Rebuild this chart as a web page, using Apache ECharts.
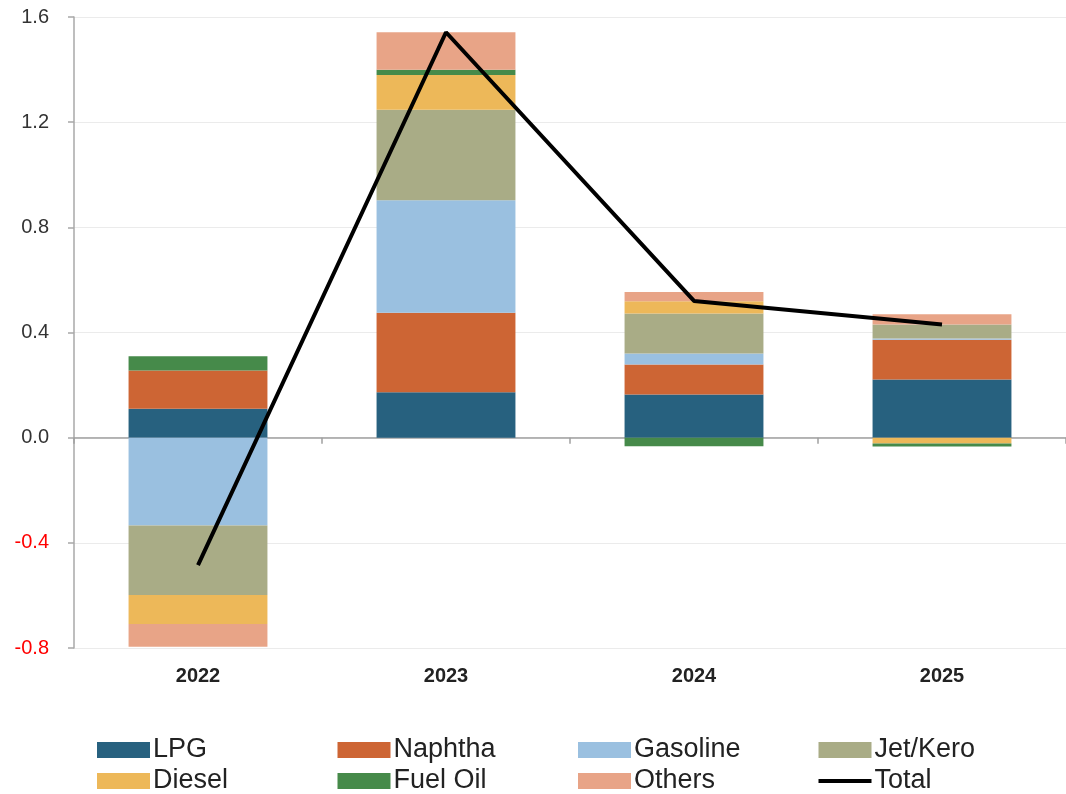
<!DOCTYPE html>
<html>
<head>
<meta charset="utf-8">
<title>Demand change by product</title>
<script src="https://cdn.jsdelivr.net/npm/echarts@6/dist/echarts.min.js"></script>
<style>
  html, body { margin: 0; padding: 0; background: #fff; }
  #main { width: 1066px; height: 794px; }
</style>
</head>
<body>
<div id="main"></div>
<script>
const years = ['2022', '2023', '2024', '2025']
const yTicks = [-0.8, -0.4, 0, 0.4, 0.8, 1.2, 1.6]

const lpg = [0.110, 0.173, 0.164, 0.221]
const naphtha = [0.145, 0.302, 0.114, 0.151]
const gasoline = [-0.334, 0.428, 0.042, 0.005]
const jetKero = [-0.264, 0.344, 0.152, 0.053]
const diesel = [-0.111, 0.132, 0.047, -0.022]
const fuelOil = [0.055, 0.020, -0.033, -0.012]
const others = [-0.086, 0.143, 0.035, 0.039]
const total = [-0.485, 1.542, 0.520, 0.430]

const barSeries = [
  { name: 'LPG', data: lpg, color: '#27617f' },
  { name: 'Naphtha', data: naphtha, color: '#cd6534' },
  { name: 'Gasoline', data: gasoline, color: '#9ac0e0' },
  { name: 'Jet/Kero', data: jetKero, color: '#a9ac86' },
  { name: 'Diesel', data: diesel, color: '#edb859' },
  { name: 'Fuel Oil', data: fuelOil, color: '#468a4a' },
  { name: 'Others', data: others, color: '#e8a487' }
]

const font = '"Liberation Sans", Arial, sans-serif'

// legend laid out as a 4 x 2 grid, one component per item
const legendOrder = ['LPG', 'Naphtha', 'Gasoline', 'Jet/Kero', 'Diesel', 'Fuel Oil', 'Others', 'Total']
const legends = legendOrder.map((name, i) => {
  const isLine = name === 'Total'
  return {
    data: [{ name: name, icon: 'rect' }],
    left: 97 + (i % 4) * 240.5,
    top: (i < 4 ? 750 : 781) - 16,
    padding: 0,
    itemWidth: 53,
    itemHeight: isLine ? 4 : 16,
    selectedMode: false,
    textStyle: { fontFamily: font, fontSize: 27, color: '#222', padding: [0, 0, 0, -2], lineHeight: 32 }
  }
})

const chart = echarts.init(document.getElementById('main'))

const option = {
  animation: false,
  backgroundColor: '#fff',
  grid: { left: 74, right: 0, top: 17, bottom: 146, containLabel: false },
  legend: legends,
  xAxis: [
    {
      type: 'category',
      data: years,
      axisLine: { onZero: true, lineStyle: { color: '#a0a0a0', width: 1.5 } },
      axisTick: { show: true, length: 6, lineStyle: { color: '#a0a0a0', width: 1.5 } },
      axisLabel: { show: false },
      splitLine: { show: false }
    },
    {
      type: 'category',
      data: years,
      position: 'bottom',
      axisLine: { show: false, onZero: false },
      axisTick: { show: false },
      axisLabel: { margin: 18, fontFamily: font, fontSize: 20, fontWeight: 'bold', color: '#222' }
    }
  ],
  yAxis: {
    type: 'value',
    min: yTicks[0],
    max: yTicks[yTicks.length - 1],
    interval: 0.4,
    axisLine: { show: true, lineStyle: { color: '#a8a8a8', width: 1.5 } },
    axisTick: { show: true, length: 6, lineStyle: { color: '#a8a8a8', width: 1.5 } },
    axisLabel: {
      margin: 25,
      fontFamily: font,
      fontSize: 20,
      formatter: v => v.toFixed(1),
      color: v => (Number(v) < 0 ? '#ff0000' : '#333')
    },
    splitLine: { show: true, lineStyle: { color: '#ebebeb', width: 1 } }
  },
  series: barSeries.map(s => ({
    name: s.name,
    type: 'bar',
    stack: 'total',
    barWidth: '56%',
    data: s.data,
    itemStyle: { color: s.color },
    emphasis: { disabled: true }
  })).concat([{
    name: 'Total',
    type: 'line',
    data: total,
    xAxisIndex: 0,
    showSymbol: false,
    symbol: 'none',
    z: 10,
    itemStyle: { color: '#000' },
    lineStyle: { color: '#000', width: 4 }
  }])
}

chart.setOption(option)

window.addEventListener('resize', () => { chart.resize() })
</script>
</body>
</html>
